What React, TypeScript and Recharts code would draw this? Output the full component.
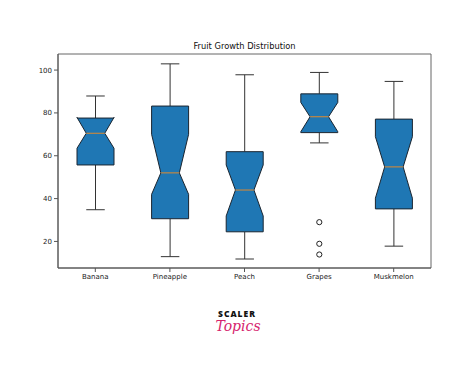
import { ComposedChart, Bar, XAxis, YAxis, CartesianGrid } from "recharts";

const categories = ["Banana", "Pineapple", "Peach", "Grapes", "Muskmelon"];
const whiskerLow = [34.8, 12.9, 11.8, 66, 17.8];
const q1 = [55.7, 30.6, 24.5, 70.8, 35.2];
const notchLow = [63.5, 42, 31.9, 71.2, 40.2];
const median = [70.5, 52, 44, 78.2, 54.8];
const notchHigh = [77.9, 70, 55.7, 84.9, 68.9];
const q3 = [77.6, 83.2, 61.9, 88.9, 77.1];
const whiskerHigh = [87.9, 102.9, 97.8, 98.9, 94.7];
const outliers = [[], [], [], [29, 18.9, 13.9], []];
const yTicks = [20, 40, 60, 80, 100];

const data = categories.map((name, i) => ({
  name,
  range: [Math.min(whiskerLow[i], ...outliers[i]), whiskerHigh[i]],
  lo: Math.min(whiskerLow[i], ...outliers[i]),
  hi: whiskerHigh[i],
  wLow: whiskerLow[i],
  q1: q1[i],
  nLow: notchLow[i],
  med: median[i],
  nHigh: notchHigh[i],
  q3: q3[i],
  wHigh: whiskerHigh[i],
  outliers: outliers[i],
}));

const FONT = "'DejaVu Sans', sans-serif";

const BoxShape = (props: any) => {
  const { x, y, width, height, payload } = props;
  const top = Math.min(y, y + height);
  const bottom = Math.max(y, y + height);
  const { lo, hi } = payload;
  const py = (v: number) => top + ((hi - v) / (hi - lo)) * (bottom - top);
  const xl = x;
  const xr = x + width;
  const cx = x + width / 2;
  const q = width / 4;
  const pts = [
    [xl, py(payload.q1)],
    [xr, py(payload.q1)],
    [xr, py(payload.nLow)],
    [cx + q, py(payload.med)],
    [xr, py(payload.nHigh)],
    [xr, py(payload.q3)],
    [xl, py(payload.q3)],
    [xl, py(payload.nHigh)],
    [cx - q, py(payload.med)],
    [xl, py(payload.nLow)],
  ];
  const d = "M" + pts.map((p) => `${p[0]},${p[1]}`).join("L") + "Z";
  return (
    <g>
      <line x1={cx} x2={cx} y1={py(payload.q3)} y2={py(payload.wHigh)} stroke="#333" strokeWidth={1} />
      <line x1={cx} x2={cx} y1={py(payload.q1)} y2={py(payload.wLow)} stroke="#333" strokeWidth={1} />
      <line x1={cx - q} x2={cx + q} y1={py(payload.wHigh)} y2={py(payload.wHigh)} stroke="#333" strokeWidth={1} />
      <line x1={cx - q} x2={cx + q} y1={py(payload.wLow)} y2={py(payload.wLow)} stroke="#333" strokeWidth={1} />
      <path d={d} fill="#1f77b4" stroke="#1a2530" strokeWidth={1} />
      <line x1={cx - q} x2={cx + q} y1={py(payload.med)} y2={py(payload.med)} stroke="#e08a2e" strokeWidth={1} />
      {payload.outliers.map((v: number, k: number) => (
        <circle key={k} cx={cx} cy={py(v)} r={2.6} fill="none" stroke="#222" strokeWidth={1} />
      ))}
    </g>
  );
};

export default function App() {
  return (
    <div style={{ position: "absolute", left: 0, top: 0, width: 474, height: 370, background: "#fff" }}>
      <div
        style={{
          position: "absolute",
          left: 58,
          width: 373,
          top: 41,
          textAlign: "center",
          fontFamily: FONT,
          fontSize: 8.3,
          color: "#111",
        }}
      >
        Fruit Growth Distribution
      </div>
      <ComposedChart
        width={474}
        height={370}
        data={data}
        margin={{ top: 54, right: 43, bottom: 82, left: 28 }}
      >
        <CartesianGrid
          stroke="#666"
          strokeWidth={1}
          horizontalCoordinatesGenerator={({ offset }: any) => [offset.top, offset.top + offset.height]}
          verticalCoordinatesGenerator={({ offset }: any) => [offset.left, offset.left + offset.width]}
        />
        <XAxis
          dataKey="name"
          height={20}
          tickSize={4}
          tickMargin={2}
          stroke="#555"
          tick={{ fill: "#222", fontSize: 7, fontFamily: FONT }}
          interval={0}
        />
        <YAxis
          domain={[7.6, 107.5]}
          ticks={yTicks}
          width={30}
          tickSize={4}
          tickMargin={2}
          stroke="#555"
          tick={{ fill: "#222", fontSize: 7, fontFamily: FONT }}
          allowDataOverflow
        />
        <Bar dataKey="range" barSize={37} isAnimationActive={false} shape={(p: any) => <BoxShape {...p} />} />
      </ComposedChart>
      <div
        style={{
          position: "absolute",
          left: 200,
          width: 74,
          top: 309,
          textAlign: "center",
          fontFamily: "'Open Sans', 'DejaVu Sans', sans-serif",
          fontWeight: 800,
          fontSize: 8.5,
          lineHeight: "9px",
          letterSpacing: 1,
          color: "#111",
        }}
      >
        SCALER
      </div>
      <div
        style={{
          position: "absolute",
          left: 200,
          width: 76,
          top: 318,
          textAlign: "center",
          fontFamily: "'DejaVu Serif', serif",
          fontStyle: "italic",
          fontSize: 14,
          lineHeight: "16px",
          color: "#d6246e",
        }}
      >
        Topics
      </div>
    </div>
  );
}
